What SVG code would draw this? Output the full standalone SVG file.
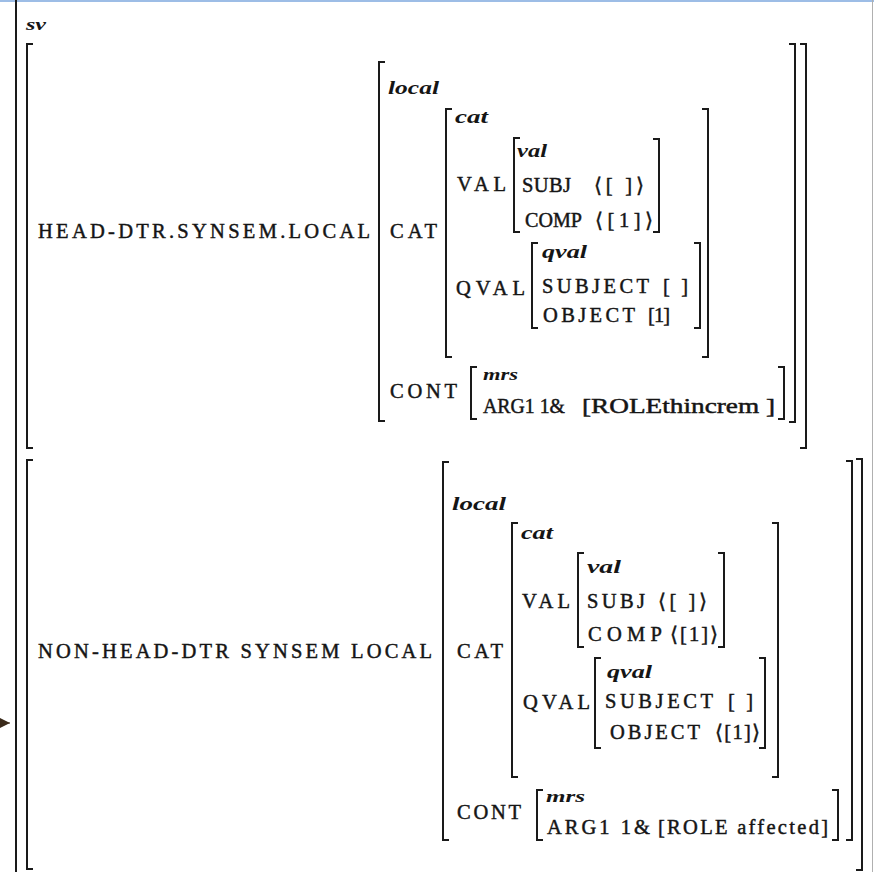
<svg xmlns="http://www.w3.org/2000/svg" width="874" height="872" viewBox="0 0 874 872">
<style>
.br{fill:none;stroke:#1a1a1a;stroke-width:2}
.t{font-family:"Liberation Serif","DejaVu Serif",serif;font-size:20.5px;fill:#151515;stroke:#151515;stroke-width:0.45}
.ty{font-family:"Liberation Serif","DejaVu Serif",serif;font-size:19px;font-style:italic;font-weight:bold;fill:#151515}
.sm{font-size:16px}
</style>
<defs>
<marker id="ah" viewBox="0 0 10 10" refX="10" refY="5" markerWidth="10" markerHeight="10" markerUnits="userSpaceOnUse" orient="auto">
<path d="M0,0 L10,5 L0,10 Z" fill="#3a2a1a"/>
</marker>
</defs>
<rect x="0" y="0" width="874" height="872" fill="#ffffff"/>
<line x1="0" y1="1" x2="874" y2="1" stroke="#9dbde6" stroke-width="2"/>
<line x1="872.5" y1="0" x2="872.5" y2="872" stroke="#b0b0b0" stroke-width="1"/>

<g id="avm-sv">
<line class="br" x1="16" y1="0" x2="16" y2="872"/>
<text class="ty sm" x="26" y="30" textLength="20" lengthAdjust="spacingAndGlyphs">sv</text>
</g>

<g id="avm-head">
<path class="br" d="M33,44 H27 V448 H33"/>
<path class="br" d="M800,44 H806 V448 H800"/>
<text class="t" x="38" y="238" textLength="332" lengthAdjust="spacing">HEAD-DTR.SYNSEM.LOCAL</text>
</g>

<g id="avm-head-local">
<path class="br" d="M385,62 H379 V421 H385"/>
<path class="br" d="M789,44 H795 V422 H789"/>
<text class="ty" x="388" y="94" textLength="51" lengthAdjust="spacingAndGlyphs">local</text>
<text class="t" x="390" y="238" textLength="47" lengthAdjust="spacing">CAT</text>
<text class="t" x="390" y="398" textLength="67" lengthAdjust="spacing">CONT</text>
</g>

<g id="avm-head-cat">
<path class="br" d="M452,109 H446 V357 H452"/>
<path class="br" d="M702,109 H708 V357 H702"/>
<text class="ty" x="455" y="123" textLength="33" lengthAdjust="spacingAndGlyphs">cat</text>
<text class="t" x="457" y="191" textLength="49" lengthAdjust="spacing">VAL</text>
<text class="t" x="456" y="295" textLength="69" lengthAdjust="spacing">QVAL</text>
</g>

<g id="avm-head-val">
<path class="br" d="M520,138 H514 V232 H520"/>
<path class="br" d="M653,139 H659 V232 H653"/>
<text class="ty" x="517" y="157" textLength="30" lengthAdjust="spacingAndGlyphs">val</text>
<text class="t" x="522" y="192" textLength="49" lengthAdjust="spacing">SUBJ</text>
<text class="t" x="594" y="192" textLength="50" lengthAdjust="spacing">⟨[ ]⟩</text>
<text class="t" x="525" y="227" textLength="57" lengthAdjust="spacingAndGlyphs">COMP</text>
<text class="t" x="595" y="227" textLength="58" lengthAdjust="spacing">⟨[1]⟩</text>
</g>

<g id="avm-head-qval">
<path class="br" d="M538,243 H532 V328 H538"/>
<path class="br" d="M694,243 H700 V328 H694"/>
<text class="ty" x="542" y="258" textLength="45" lengthAdjust="spacingAndGlyphs">qval</text>
<text class="t" x="542" y="293" textLength="107" lengthAdjust="spacing">SUBJECT</text>
<text class="t" x="663" y="293" textLength="25" lengthAdjust="spacing">[ ]</text>
<text class="t" x="543" y="322" textLength="92" lengthAdjust="spacing">OBJECT</text>
<text class="t" x="648" y="322" textLength="22" lengthAdjust="spacing">[1]</text>
</g>

<g id="avm-head-mrs">
<path class="br" d="M477,367 H471 V419 H477"/>
<path class="br" d="M778,367 H784 V419 H778"/>
<text class="ty sm" x="483" y="380" textLength="35" lengthAdjust="spacingAndGlyphs">mrs</text>
<text class="t" x="483" y="413" textLength="82" lengthAdjust="spacingAndGlyphs">ARG1 1&amp;</text>
<text class="t" x="582" y="413" textLength="193" lengthAdjust="spacingAndGlyphs">[ROLEthincrem ]</text>
</g>

<g id="avm-nonhead">
<path class="br" d="M33,460 H27 V869 H33"/>
<path class="br" d="M856,459 H862 V870 H856"/>
<text class="t" x="38" y="658" textLength="394" lengthAdjust="spacing">NON-HEAD-DTR SYNSEM LOCAL</text>
</g>

<g id="avm-nonhead-local">
<path class="br" d="M449,462 H443 V840 H449"/>
<path class="br" d="M846,461 H852 V840 H846"/>
<text class="ty" x="452" y="510" textLength="54" lengthAdjust="spacingAndGlyphs">local</text>
<text class="t" x="457" y="658" textLength="46" lengthAdjust="spacing">CAT</text>
<text class="t" x="457" y="819" textLength="64" lengthAdjust="spacing">CONT</text>
</g>

<g id="avm-nonhead-cat">
<path class="br" d="M518,523 H512 V777 H518"/>
<path class="br" d="M772,523 H778 V777 H772"/>
<text class="ty" x="521" y="539" textLength="32" lengthAdjust="spacingAndGlyphs">cat</text>
<text class="t" x="522" y="608" textLength="48" lengthAdjust="spacing">VAL</text>
<text class="t" x="523" y="709" textLength="67" lengthAdjust="spacing">QVAL</text>
</g>

<g id="avm-nonhead-val">
<path class="br" d="M584,553 H578 V647 H584"/>
<path class="br" d="M718,553 H724 V647 H718"/>
<text class="ty" x="587" y="573" textLength="34" lengthAdjust="spacingAndGlyphs">val</text>
<text class="t" x="587" y="608" textLength="58" lengthAdjust="spacing">SUBJ</text>
<text class="t" x="658" y="608" textLength="49" lengthAdjust="spacing">⟨[ ]⟩</text>
<text class="t" x="588" y="641" textLength="74" lengthAdjust="spacing">COMP</text>
<text class="t" x="670" y="641" textLength="48" lengthAdjust="spacing">⟨[1]⟩</text>
</g>

<g id="avm-nonhead-qval">
<path class="br" d="M601,658 H595 V748 H601"/>
<path class="br" d="M759,658 H765 V748 H759"/>
<text class="ty" x="607" y="678" textLength="45" lengthAdjust="spacingAndGlyphs">qval</text>
<text class="t" x="605" y="708" textLength="108" lengthAdjust="spacing">SUBJECT</text>
<text class="t" x="728" y="708" textLength="25" lengthAdjust="spacing">[ ]</text>
<text class="t" x="610" y="739" textLength="90" lengthAdjust="spacing">OBJECT</text>
<text class="t" x="715" y="739" textLength="45" lengthAdjust="spacing">⟨[1]⟩</text>
</g>

<g id="avm-nonhead-mrs">
<path class="br" d="M543,790 H537 V840 H543"/>
<path class="br" d="M832,790 H838 V840 H832"/>
<text class="ty sm" x="546" y="802" textLength="39" lengthAdjust="spacingAndGlyphs">mrs</text>
<text class="t" x="547" y="834" textLength="103" lengthAdjust="spacing">ARG1 1&amp;</text>
<text class="t" x="658" y="834" textLength="170" lengthAdjust="spacing">[ROLE affected]</text>
</g>

<g id="connectors">
<line x1="0" y1="723" x2="10" y2="723" stroke="#3a2a1a" stroke-width="1" marker-end="url(#ah)"/>
</g>
</svg>
